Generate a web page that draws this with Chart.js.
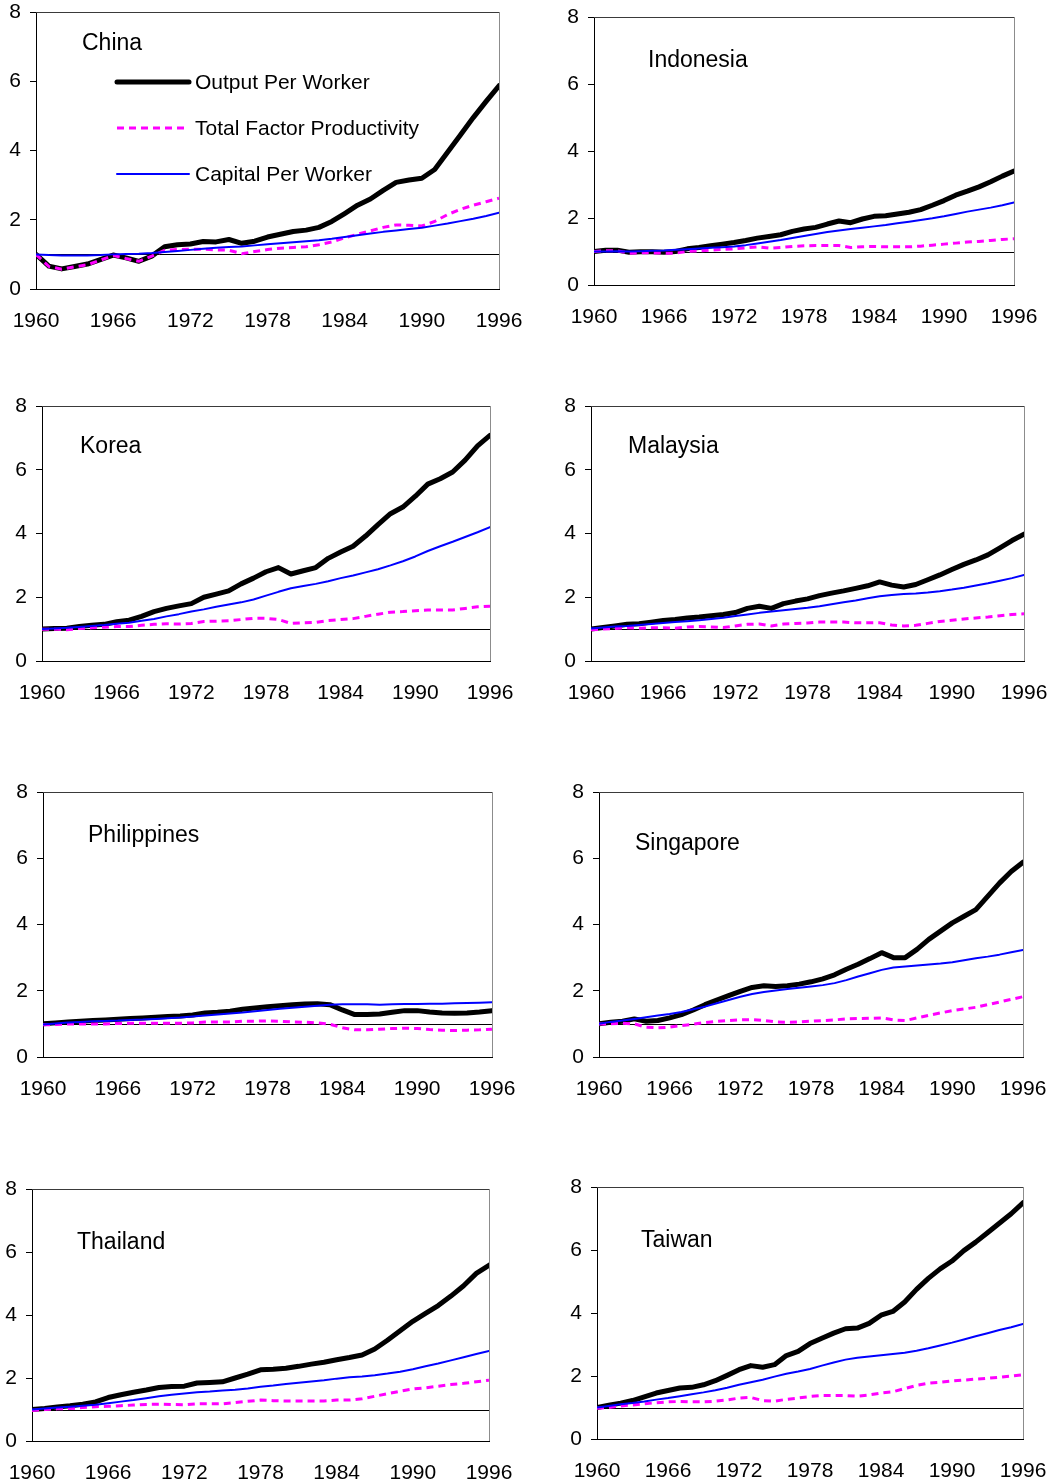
<!DOCTYPE html>
<html>
<head>
<meta charset="utf-8">
<title>Output, TFP and Capital per Worker, East Asia 1960-1996</title>
<script src="https://cdn.jsdelivr.net/npm/chart.js@4.4.1/dist/chart.umd.min.js"></script>
<style>
  html, body { margin: 0; padding: 0; background: #ffffff; }
  body { width: 1052px; height: 1483px; position: relative; overflow: hidden; }
  .panel { position: absolute; }
  .panel canvas { display: block; }
</style>
</head>
<body>
<script>
// ---- Data (index 1960 = 1.0) -------------------------------------------
const years = [1960,1961,1962,1963,1964,1965,1966,1967,1968,1969,
               1970,1971,1972,1973,1974,1975,1976,1977,1978,1979,
               1980,1981,1982,1983,1984,1985,1986,1987,1988,1989,
               1990,1991,1992,1993,1994,1995,1996];
const xTickYears = [1960, 1966, 1972, 1978, 1984, 1990, 1996];
const yTickValues = [0, 2, 4, 6, 8];
const seriesNames = ['Output Per Worker', 'Total Factor Productivity', 'Capital Per Worker'];
const countries = ['China', 'Indonesia', 'Korea', 'Malaysia', 'Philippines', 'Singapore', 'Thailand', 'Taiwan'];

const chinaOutput  = [1.00,0.66,0.58,0.65,0.72,0.85,0.98,0.90,0.80,0.95, 1.22,1.28,1.30,1.37,1.36,1.43,1.32,1.38,1.50,1.58, 1.66,1.70,1.78,1.95,2.18,2.42,2.60,2.85,3.08,3.15, 3.20,3.45,3.95,4.45,4.95,5.42,5.87];
const chinaTfp     = [1.00,0.65,0.57,0.64,0.70,0.83,0.97,0.88,0.80,0.95, 1.12,1.14,1.15,1.15,1.13,1.12,1.02,1.08,1.14,1.18, 1.20,1.22,1.28,1.36,1.48,1.58,1.68,1.78,1.85,1.84, 1.82,1.95,2.15,2.30,2.42,2.52,2.62];
const chinaCapital = [1.00,0.98,0.97,0.97,0.97,0.98,1.00,1.01,1.02,1.04, 1.07,1.10,1.13,1.16,1.19,1.21,1.23,1.26,1.29,1.32, 1.35,1.38,1.41,1.45,1.50,1.55,1.60,1.65,1.69,1.73, 1.77,1.83,1.89,1.96,2.03,2.11,2.20];

const indonesiaOutput  = [1.00,1.04,1.04,0.98,0.99,0.99,0.98,1.00,1.08,1.12, 1.17,1.22,1.27,1.33,1.40,1.45,1.50,1.60,1.67,1.72, 1.82,1.91,1.86,1.97,2.05,2.07,2.12,2.17,2.25,2.38, 2.52,2.68,2.80,2.93,3.08,3.25,3.40];
const indonesiaTfp     = [1.00,1.02,1.02,0.95,0.96,0.96,0.95,0.95,1.00,1.02, 1.04,1.06,1.08,1.11,1.14,1.10,1.12,1.15,1.17,1.18, 1.18,1.18,1.12,1.14,1.15,1.14,1.14,1.14,1.16,1.19, 1.22,1.25,1.28,1.30,1.33,1.36,1.38];
const indonesiaCapital = [1.00,1.00,1.01,1.00,1.01,1.02,1.03,1.05,1.07,1.09, 1.11,1.13,1.15,1.19,1.24,1.29,1.34,1.40,1.46,1.52, 1.58,1.63,1.67,1.71,1.75,1.79,1.84,1.89,1.94,1.99, 2.05,2.12,2.19,2.25,2.31,2.38,2.46];

const koreaOutput  = [1.00,1.02,1.03,1.08,1.12,1.15,1.23,1.28,1.40,1.55, 1.65,1.73,1.80,2.00,2.10,2.20,2.42,2.60,2.80,2.93, 2.73,2.83,2.93,3.22,3.42,3.60,3.92,4.28,4.62,4.83, 5.17,5.55,5.72,5.93,6.30,6.75,7.08];
const koreaTfp     = [1.00,1.00,0.98,1.02,1.04,1.06,1.08,1.08,1.12,1.15, 1.17,1.16,1.18,1.24,1.25,1.26,1.30,1.34,1.34,1.30, 1.18,1.20,1.21,1.27,1.30,1.33,1.40,1.47,1.53,1.55, 1.58,1.60,1.60,1.60,1.65,1.70,1.72];
const koreaCapital = [1.00,1.02,1.04,1.07,1.10,1.13,1.17,1.20,1.26,1.32, 1.40,1.47,1.55,1.62,1.70,1.77,1.84,1.93,2.05,2.17, 2.28,2.35,2.42,2.50,2.60,2.68,2.78,2.88,3.00,3.13, 3.28,3.45,3.60,3.74,3.89,4.04,4.20];

const malaysiaOutput  = [1.00,1.05,1.10,1.15,1.17,1.22,1.27,1.30,1.35,1.38, 1.42,1.46,1.52,1.65,1.72,1.65,1.80,1.88,1.95,2.05, 2.13,2.20,2.28,2.36,2.48,2.38,2.32,2.40,2.55,2.70, 2.87,3.03,3.17,3.33,3.55,3.78,3.98];
const malaysiaTfp     = [0.98,1.00,1.02,1.04,1.03,1.04,1.04,1.03,1.07,1.08, 1.07,1.05,1.10,1.15,1.16,1.10,1.16,1.18,1.19,1.22, 1.22,1.22,1.20,1.20,1.20,1.13,1.10,1.12,1.18,1.24, 1.28,1.32,1.35,1.38,1.42,1.46,1.48];
const malaysiaCapital = [1.02,1.05,1.08,1.10,1.13,1.16,1.19,1.22,1.25,1.28, 1.32,1.36,1.41,1.46,1.51,1.55,1.59,1.63,1.67,1.72, 1.78,1.84,1.90,1.97,2.03,2.07,2.10,2.12,2.15,2.19, 2.24,2.30,2.37,2.44,2.52,2.60,2.70];

const philippinesOutput  = [1.00,1.03,1.06,1.08,1.10,1.12,1.14,1.16,1.18,1.20, 1.22,1.24,1.27,1.33,1.35,1.38,1.44,1.48,1.52,1.55, 1.58,1.60,1.61,1.58,1.42,1.28,1.28,1.30,1.35,1.40, 1.40,1.36,1.33,1.32,1.33,1.36,1.40];
const philippinesTfp     = [0.97,0.98,1.00,1.00,1.00,1.00,1.01,1.02,1.02,1.02, 1.02,1.02,1.03,1.06,1.06,1.06,1.08,1.08,1.09,1.08, 1.06,1.05,1.03,0.99,0.88,0.82,0.82,0.84,0.86,0.87, 0.86,0.83,0.81,0.80,0.81,0.82,0.84];
const philippinesCapital = [0.98,1.01,1.04,1.06,1.08,1.09,1.10,1.12,1.13,1.15, 1.17,1.19,1.22,1.25,1.28,1.31,1.34,1.38,1.42,1.46, 1.49,1.52,1.55,1.58,1.59,1.59,1.59,1.58,1.59,1.60, 1.60,1.61,1.61,1.62,1.63,1.64,1.65];

const singaporeOutput  = [1.00,1.05,1.08,1.15,1.08,1.10,1.18,1.28,1.42,1.58, 1.72,1.85,1.98,2.10,2.15,2.13,2.15,2.20,2.27,2.36, 2.48,2.65,2.80,2.97,3.15,3.00,3.00,3.25,3.55,3.80, 4.05,4.25,4.45,4.85,5.25,5.60,5.88];
const singaporeTfp     = [1.00,1.00,1.02,1.00,0.90,0.88,0.90,0.95,0.99,1.04, 1.08,1.10,1.12,1.13,1.10,1.06,1.05,1.06,1.08,1.10, 1.12,1.15,1.16,1.17,1.18,1.12,1.10,1.18,1.26,1.33, 1.40,1.45,1.50,1.58,1.66,1.74,1.82];
const singaporeCapital = [1.00,1.06,1.10,1.15,1.20,1.25,1.30,1.36,1.44,1.52, 1.62,1.72,1.82,1.90,1.96,2.01,2.05,2.09,2.13,2.17, 2.23,2.32,2.43,2.53,2.63,2.70,2.73,2.76,2.79,2.82, 2.86,2.92,2.98,3.03,3.09,3.16,3.23];

const thailandOutput  = [1.00,1.03,1.08,1.12,1.17,1.24,1.38,1.47,1.55,1.62, 1.70,1.73,1.74,1.84,1.86,1.88,2.00,2.12,2.26,2.28, 2.31,2.37,2.44,2.50,2.58,2.65,2.73,2.92,3.20,3.50, 3.80,4.05,4.30,4.60,4.93,5.32,5.58];
const thailandTfp     = [0.97,1.00,1.02,1.03,1.06,1.09,1.10,1.12,1.14,1.16, 1.17,1.16,1.15,1.18,1.18,1.18,1.22,1.26,1.30,1.28, 1.27,1.27,1.27,1.27,1.30,1.30,1.34,1.42,1.50,1.58, 1.65,1.69,1.74,1.79,1.83,1.88,1.93];
const thailandCapital = [1.00,1.03,1.06,1.09,1.12,1.15,1.20,1.25,1.30,1.36, 1.42,1.47,1.51,1.55,1.57,1.60,1.63,1.67,1.72,1.76, 1.81,1.85,1.89,1.93,1.98,2.02,2.05,2.09,2.14,2.20, 2.28,2.37,2.46,2.56,2.66,2.76,2.86];

const taiwanOutput  = [1.00,1.07,1.14,1.22,1.34,1.46,1.54,1.62,1.64,1.72, 1.85,2.02,2.20,2.33,2.28,2.36,2.65,2.78,3.03,3.20, 3.36,3.50,3.52,3.67,3.93,4.05,4.35,4.75,5.10,5.40, 5.65,5.98,6.25,6.55,6.85,7.15,7.50];
const taiwanTfp     = [0.98,1.00,1.05,1.08,1.12,1.15,1.18,1.19,1.18,1.18, 1.20,1.24,1.30,1.32,1.22,1.20,1.26,1.30,1.35,1.38, 1.38,1.38,1.36,1.40,1.46,1.50,1.60,1.70,1.77,1.80, 1.84,1.87,1.90,1.93,1.96,2.00,2.04];
const taiwanCapital = [1.00,1.05,1.10,1.14,1.19,1.25,1.30,1.36,1.42,1.48, 1.55,1.63,1.72,1.80,1.88,1.98,2.07,2.14,2.22,2.33, 2.43,2.52,2.58,2.62,2.66,2.70,2.74,2.80,2.88,2.97, 3.06,3.16,3.26,3.36,3.46,3.55,3.65];

// ---- Layout of the eight panels (plot-area edges in page pixels) ------
const panels = [
  { name: countries[0], series: [chinaOutput, chinaTfp, chinaCapital],                   plot: { l: 36,  r: 499,  t: 12,   b: 289 },  title: { dx: 46, dy: 32 }, legend: true },
  { name: countries[1], series: [indonesiaOutput, indonesiaTfp, indonesiaCapital],       plot: { l: 594, r: 1014, t: 17,   b: 285 },  title: { dx: 54, dy: 44 } },
  { name: countries[2], series: [koreaOutput, koreaTfp, koreaCapital],                   plot: { l: 42,  r: 490,  t: 406,  b: 661 },  title: { dx: 38, dy: 41 } },
  { name: countries[3], series: [malaysiaOutput, malaysiaTfp, malaysiaCapital],          plot: { l: 591, r: 1024, t: 406,  b: 661 },  title: { dx: 37, dy: 41 } },
  { name: countries[4], series: [philippinesOutput, philippinesTfp, philippinesCapital], plot: { l: 43,  r: 492,  t: 792,  b: 1057 }, title: { dx: 45, dy: 44 } },
  { name: countries[5], series: [singaporeOutput, singaporeTfp, singaporeCapital],       plot: { l: 599, r: 1023, t: 792,  b: 1057 }, title: { dx: 36, dy: 52 } },
  { name: countries[6], series: [thailandOutput, thailandTfp, thailandCapital],          plot: { l: 32,  r: 489,  t: 1189, b: 1441 }, title: { dx: 45, dy: 54 } },
  { name: countries[7], series: [taiwanOutput, taiwanTfp, taiwanCapital],                plot: { l: 597, r: 1023, t: 1187, b: 1439 }, title: { dx: 44, dy: 54 } }
];

const FONT = '"Liberation Sans", Arial, Helvetica, sans-serif';
const TICK_FONT_SIZE = 21;
const Y_AXIS_W = 32, X_AXIS_H = 45, PAD_TOP = 14, PAD_RIGHT = 28;

const lineStyles = [
  { borderColor: '#000000', borderWidth: 5, borderDash: [],     order: 3, borderCapStyle: 'round', borderJoinStyle: 'round' },
  { borderColor: '#ff00ff', borderWidth: 3, borderDash: [7, 5], order: 2, borderCapStyle: 'butt',  borderJoinStyle: 'miter' },
  { borderColor: '#0000ff', borderWidth: 2, borderDash: [],     order: 1, borderCapStyle: 'round', borderJoinStyle: 'round' }
];

// Frame, the "1960 = 1" reference line, panel title and (China only) legend.
const panelDecor = {
  id: 'panelDecor',
  beforeDatasetsDraw(chart, args, opts) {
    const { ctx, chartArea: a, scales: { y } } = chart;
    ctx.save();
    ctx.lineWidth = 1;
    const yy = Math.round(y.getPixelForValue(1)) + 0.5;
    ctx.strokeStyle = '#000000';
    ctx.beginPath(); ctx.moveTo(a.left, yy); ctx.lineTo(a.right, yy); ctx.stroke();
    ctx.strokeStyle = '#3a3a3a';
    ctx.beginPath(); ctx.moveTo(a.left, Math.round(a.top) + 0.5); ctx.lineTo(Math.round(a.right) + 1, Math.round(a.top) + 0.5); ctx.stroke();
    ctx.strokeStyle = '#8c8c8c';
    ctx.beginPath(); ctx.moveTo(Math.round(a.right) + 0.5, a.top); ctx.lineTo(Math.round(a.right) + 0.5, a.bottom); ctx.stroke();
    ctx.restore();
  },
  afterDraw(chart, args, opts) {
    const { ctx, chartArea: a } = chart;
    ctx.save();
    ctx.fillStyle = '#000000';
    ctx.textBaseline = 'middle';
    ctx.textAlign = 'left';
    ctx.font = '23px ' + FONT;
    ctx.fillText(opts.title, a.left + opts.dx, a.top + opts.dy);
    if (opts.legend) {
      const rowY = [70, 116, 162];
      chart.data.datasets.forEach((ds, i) => {
        const yPix = a.top + rowY[i];
        ctx.save();
        ctx.strokeStyle = ds.borderColor;
        ctx.lineWidth = ds.borderWidth;
        ctx.setLineDash(ds.borderDash || []);
        ctx.lineCap = ds.borderCapStyle;
        ctx.beginPath();
        ctx.moveTo(a.left + 81, yPix);
        ctx.lineTo(a.left + (i === 1 ? 148 : 153), yPix);
        ctx.stroke();
        ctx.restore();
        ctx.font = '21px ' + FONT;
        ctx.fillText(ds.label, a.left + 159, yPix + 1);
      });
    }
    ctx.restore();
  }
};

panels.forEach(p => {
  const left = p.plot.l - Y_AXIS_W;
  const top = p.plot.t - PAD_TOP;
  const width = p.plot.r + PAD_RIGHT - left;
  const height = (p.plot.b - p.plot.t) + PAD_TOP + X_AXIS_H;

  const box = document.createElement('div');
  box.className = 'panel';
  box.style.left = left + 'px';
  box.style.top = top + 'px';
  box.style.width = width + 'px';
  box.style.height = height + 'px';
  const canvas = document.createElement('canvas');
  canvas.width = width;
  canvas.height = height;
  canvas.style.width = width + 'px';
  canvas.style.height = height + 'px';
  box.appendChild(canvas);
  document.body.appendChild(box);

  const datasets = p.series.map((values, i) => Object.assign({
    label: seriesNames[i],
    data: years.map((yr, k) => ({ x: yr, y: values[k] })),
    pointRadius: 0,
    tension: 0,
    fill: false
  }, lineStyles[i]));

  new Chart(canvas, {
    type: 'line',
    data: { datasets },
    plugins: [panelDecor],
    options: {
      responsive: false,
      animation: false,
      devicePixelRatio: 1,
      layout: { autoPadding: false, padding: { top: PAD_TOP, right: PAD_RIGHT, left: 0, bottom: 0 } },
      plugins: {
        legend: { display: false },
        tooltip: { enabled: false },
        panelDecor: { title: p.name, dx: p.title.dx, dy: p.title.dy, legend: !!p.legend }
      },
      scales: {
        x: {
          type: 'linear',
          min: years[0],
          max: years[years.length - 1],
          afterBuildTicks: ax => { ax.ticks = xTickYears.map(v => ({ value: v })); },
          // fixed axis box: the label overhang is already covered by the canvas margins
          afterFit: ax => { ax.height = X_AXIS_H; ax.paddingLeft = 0; ax.paddingRight = 0; },
          grid: { display: false, drawTicks: false },
          border: { display: true, color: '#000000', width: 1 },
          ticks: {
            padding: 20, maxRotation: 0, autoSkip: false, color: '#000000',
            font: { family: FONT, size: TICK_FONT_SIZE },
            callback: v => String(v)
          }
        },
        y: {
          min: 0,
          max: 8,
          afterBuildTicks: ax => { ax.ticks = yTickValues.map(v => ({ value: v })); },
          afterFit: ax => { ax.width = Y_AXIS_W; ax.paddingTop = 0; ax.paddingBottom = 0; },
          grid: { drawOnChartArea: false, drawTicks: true, tickLength: 6, color: '#000000' },
          border: { display: true, color: '#000000', width: 1 },
          ticks: {
            padding: 9, color: '#000000',
            font: { family: FONT, size: TICK_FONT_SIZE },
            callback: v => String(v)
          }
        }
      }
    }
  });
});
</script>
</body>
</html>
